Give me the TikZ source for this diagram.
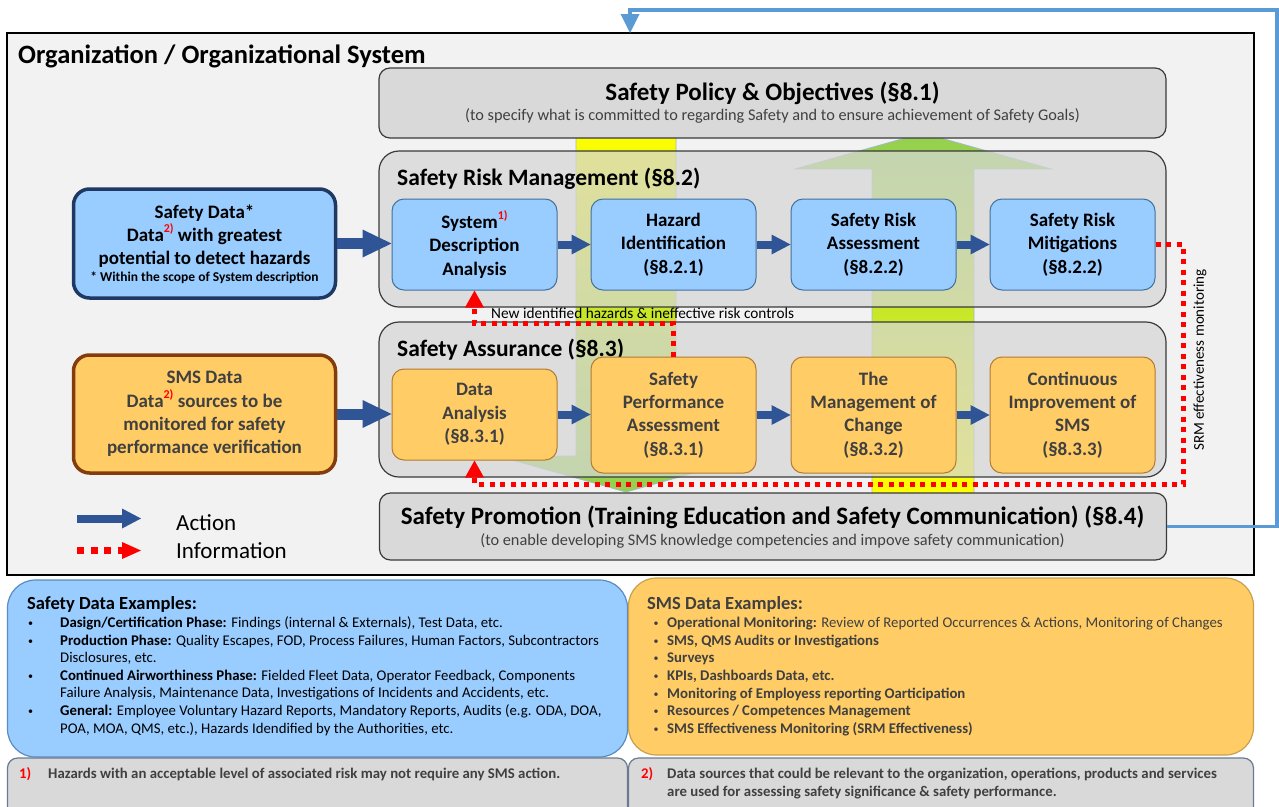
\documentclass[tikz,border=0pt]{standalone}
\usepackage{fontspec}
\setmainfont{Carlito}
\usetikzlibrary{arrows.meta,calc}
\definecolor{bgc}{HTML}{F2F2F2}
\definecolor{contc}{HTML}{D6D6D6}
\definecolor{polc}{HTML}{D9D9D9}
\definecolor{edgec}{HTML}{3A3A3A}
\definecolor{bluebox}{HTML}{99CCFF}
\definecolor{blueedge}{HTML}{41719C}
\definecolor{orbox}{HTML}{FFCC66}
\definecolor{oredge}{HTML}{B47A2F}
\definecolor{actc}{HTML}{2F5597}
\definecolor{fbc}{HTML}{5B9BD5}
\definecolor{txtg}{HTML}{404040}
\definecolor{ylw}{HTML}{FFFF00}
\definecolor{grn}{HTML}{92D050}
\definecolor{sdedge}{HTML}{203864}
\definecolor{smsedge}{HTML}{843C0C}
\definecolor{fnedge}{HTML}{6A7A90}
\definecolor{arredge}{HTML}{A3B9CC}
\definecolor{exoredge}{HTML}{C9A04C}
\definecolor{exbledge}{HTML}{5B8BC0}
\newcommand\FS[2]{\fontsize{#1}{#2}\selectfont}
\newcommand\redsup[1]{\raisebox{0.45em}{\FS{12}{12}\bfseries\color{red}#1}}
\tikzset{
  frame/.style={draw=black, line width=1.6pt, fill=bgc, inner sep=0pt},
  cont/.style={draw=edgec, line width=1.2pt, fill=contc, fill opacity=0.72, rounded corners=20pt, inner sep=0pt, minimum width=787pt},
  pcont/.style={draw=edgec, line width=1.2pt, fill=polc, rounded corners=11pt, inner sep=0pt, minimum width=787pt},
  bbox/.style={draw=blueedge, line width=1pt, fill=bluebox, rounded corners=12pt, minimum width=165pt, minimum height=91pt, align=center, font=\FS{19}{23.3}\bfseries, inner sep=0pt},
  obox/.style={bbox, draw=oredge, fill=orbox, text=txtg},
  sdbox/.style={draw=sdedge, line width=3.5pt, fill=bluebox, rounded corners=16pt, minimum width=262pt, minimum height=109pt, inner sep=0pt},
  smsbox/.style={draw=smsedge, line width=3.5pt, fill=orbox, rounded corners=16pt, minimum width=262pt, minimum height=118pt, inner sep=0pt, align=center, font=\FS{19}{23.3}\bfseries, text=txtg},
  act/.style={draw=actc, line width=8pt, -{Triangle[length=19pt,width=20pt,line width=0pt]}},
  bigact/.style={draw=actc, line width=11pt, -{Triangle[length=29pt,width=28pt,line width=0pt]}},
  info/.style={draw=red, line width=5pt, dash pattern=on 5pt off 5.5pt, -{Triangle[length=17pt,width=19pt,line width=0pt]}},
  infolegend/.style={draw=red, line width=7pt, dash pattern=on 7pt off 6.5pt, -{Triangle[length=19pt,width=17pt,line width=0pt]}},
  fb/.style={draw=fbc, line width=3.5pt, -{Triangle[length=19pt,width=19pt,line width=0pt]}},
  bigarrow/.style={draw=arredge, line width=0.8pt},
  lb/.style={anchor=base west, inner sep=0pt},
  lc/.style={anchor=base, inner sep=0pt},
  exbl/.style={draw=exbledge, line width=1.2pt, fill=bluebox, rounded corners=28pt, inner sep=0pt},
  exor/.style={draw=exoredge, line width=1.2pt, fill=orbox, rounded corners=28pt, inner sep=0pt},
  fnbox/.style={draw=fnedge, line width=1.2pt, fill=polc, rounded corners=10pt, inner sep=0pt},
  exfont/.style={font=\FS{14.8}{17.6}},
  bul/.style={anchor=base, inner sep=0pt, font=\FS{10}{10}},
}
\begin{document}
\begin{tikzpicture}[x=1pt,y=-1pt]
\useasboundingbox (0,0) rectangle (1279,806);
% outer frame
\node[frame, minimum width=1247pt, minimum height=542pt] (org) at (630.5,304) {};
\node[lb, font=\FS{26.5}{30}\bfseries] (orgt) at (18,63.5) {Organization / Organizational System};
% big gradient arrows
\path[bigarrow, top color=ylw, bottom color=grn] (576,128) -- (676,128) -- (676,456) -- (754,456) -- (626,492) -- (498,456) -- (576,456) -- cycle;
\path[bigarrow, top color=grn, bottom color=ylw] (872,497) -- (974,497) -- (974,169) -- (1051,169) -- (923,133) -- (795,169) -- (872,169) -- cycle;
% containers
\node[cont, minimum height=156pt] (srm) at (772.5,229) {};
\node[cont, minimum height=155pt] (sa) at (772.5,399.5) {};
\node[pcont, minimum height=70pt] (pol) at (772.5,103) {};
\node[pcont, minimum height=67pt] (prom) at (773,526.5) {};
% titles
\node[lc, font=\FS{25}{28}\bfseries] (polt) at (772.5,100) {Safety Policy \& Objectives (§8.1)};
\node[lc, font=\FS{16.3}{18}, text=txtg] (pols) at (772.5,120.5) {(to specify what is committed to regarding Safety and to ensure achievement of Safety Goals)};
\node[lb, font=\FS{23.5}{26}\bfseries] (srmt) at (397,185) {Safety Risk Management (§8.2)};
\node[lb, font=\FS{23.5}{26}\bfseries] (sat) at (397,356.5) {Safety Assurance (§8.3)};
\node[lc, font=\FS{25}{28}\bfseries] (promt) at (772.5,524) {Safety Promotion (Training Education and Safety Communication) (§8.4)};
\node[lc, font=\FS{16.3}{18}, text=txtg] (proms) at (772.5,545.5) {(to enable developing SMS knowledge competencies and impove safety communication)};
% SRM boxes
\node[bbox] (sda) at (474.5,244.5) {System\redsup{1)}\\Description\\Analysis};
\node[bbox] (hi) at (673.5,244.5) {Hazard\\Identification\\(§8.2.1)};
\node[bbox] (sra) at (873.5,244.5) {Safety Risk\\Assessment\\(§8.2.2)};
\node[bbox] (srmit) at (1072.5,244.5) {Safety Risk\\Mitigations\\(§8.2.2)};
% SA boxes
\node[obox] (da) at (474.5,414.5) {Data\\Analysis\\(§8.3.1)};
\node[obox, minimum height=116pt] (spa) at (673.5,415) {Safety\\Performance\\Assessment\\(§8.3.1)};
\node[obox, minimum height=116pt] (moc) at (873.5,415) {The\\Management of\\Change\\(§8.3.2)};
\node[obox, minimum height=116pt] (ci) at (1072.5,415) {Continuous\\Improvement of\\SMS\\(§8.3.3)};
% left data boxes
\node[sdbox] (sd) at (204.5,243.5) {};
\node[align=center, inner sep=0pt, font=\FS{19}{23}\bfseries] (sdt) at (204.5,236) {Safety Data*\\Data\redsup{2)} with greatest\\potential to detect hazards};
\node[lc, font=\FS{13.5}{15}\bfseries] (sdn) at (204.5,281.5) {* Within the scope of System description};
\node[smsbox] (sms) at (204.5,414) {SMS Data\\Data\redsup{2)} sources to be\\monitored for safety\\performance verification};
% action arrows
\draw[bigact] (sd.east) -- (sd.east -| sda.west);
\draw[bigact] (sms.east) -- (sms.east -| da.west);
\draw[act] (sda) -- (hi);
\draw[act] (hi) -- (sra);
\draw[act] (sra) -- (srmit);
\draw[act] (da.east) -- (da.east -| spa.west);
\draw[act] (spa) -- (moc);
\draw[act] (moc) -- (ci);
% information arrows
\draw[info] (spa.north) -- ++(0,-33) -| (sda.south);
\coordinate (rc) at (1183,484);
\draw[info] (srmit.east) -| (rc) -| (da.south);
\node[lb, font=\FS{15.3}{15}] (lbl) at (491,318.5) {New identified hazards \& ineffective risk controls};
\node[rotate=90, font=\FS{15}{15}, inner sep=0pt] (srmlbl) at (1200,360) {SRM effectiveness monitoring};
% feedback line
\coordinate (fbr) at (1277,10);
\coordinate (fbt) at (630,33);
\draw[fb] (prom.east) -| (fbr) -| (fbt);
% legend
\coordinate (la1) at (77,518.5);
\coordinate (la2) at (141,518.5);
\coordinate (li1) at (77,550.5);
\coordinate (li2) at (141,550.5);
\draw[act] (la1) -- (la2);
\draw[infolegend] (li1) -- (li2);
\node[lb, font=\FS{23}{26}] (lact) at (176,530) {Action};
\node[lb, font=\FS{23}{26}] (linf) at (176,558.3) {Information};
% examples boxes
\node[exbl, minimum width=620pt, minimum height=177pt] (exb) at (317.5,668.5) {};
\node[exor, minimum width=625pt, minimum height=177pt] (exo) at (941,666.5) {};
\node[fnbox, minimum width=620pt, minimum height=72pt] (fn1) at (317.5,794) {};
\node[fnbox, minimum width=625pt, minimum height=72pt] (fn2) at (941,794) {};
% blue examples text
\node[lb, font=\FS{18.5}{20}\bfseries] (bt) at (27,609) {Safety Data Examples:};
\node[bul] (bb1) at (30.7,626.5) {•};
\node[bul] (bb2) at (30.7,644.1) {•};
\node[bul] (bb4) at (30.7,679.3) {•};
\node[bul] (bb6) at (30.7,714.5) {•};
\node[lb, exfont] (b1) at (60,627.5) {\textbf{Dasign/Certification Phase:} Findings (internal \& Externals), Test Data, etc.};
\node[lb, exfont] (b2) at (60,645.1) {\textbf{Production Phase:} Quality Escapes, FOD, Process Failures, Human Factors, Subcontractors};
\node[lb, exfont] (b3) at (60,662.7) {Disclosures, etc.};
\node[lb, exfont] (b4) at (60,680.3) {\textbf{Continued Airworthiness Phase:} Fielded Fleet Data, Operator Feedback, Components};
\node[lb, exfont] (b5) at (60,697.9) {Failure Analysis, Maintenance Data, Investigations of Incidents and Accidents, etc.};
\node[lb, exfont] (b6) at (60,715.5) {\textbf{General:} Employee Voluntary Hazard Reports, Mandatory Reports, Audits (e.g. ODA, DOA,};
\node[lb, exfont] (b7) at (60,733.1) {POA, MOA, QMS, etc.), Hazards Idendified by the Authorities, etc.};
% orange examples text
\node[lb, font=\FS{18.5}{20}\bfseries, text=txtg] (ot) at (647,609) {SMS Data Examples:};
\node[bul, text=txtg] (ob1) at (656,626.3) {•};
\node[bul, text=txtg] (ob2) at (656,644) {•};
\node[bul, text=txtg] (ob3) at (656,661.7) {•};
\node[bul, text=txtg] (ob4) at (656,679.4) {•};
\node[bul, text=txtg] (ob5) at (656,697.1) {•};
\node[bul, text=txtg] (ob6) at (656,714.8) {•};
\node[bul, text=txtg] (ob7) at (656,732.5) {•};
\node[lb, exfont, text=txtg] (o1) at (667,627.3) {\textbf{Operational Monitoring:} Review of Reported Occurrences \& Actions, Monitoring of Changes};
\node[lb, exfont, text=txtg] (o2) at (667,645) {\textbf{SMS, QMS Audits or Investigations}};
\node[lb, exfont, text=txtg] (o3) at (667,662.7) {\textbf{Surveys}};
\node[lb, exfont, text=txtg] (o4) at (667,680.4) {\textbf{KPIs, Dashboards Data, etc.}};
\node[lb, exfont, text=txtg] (o5) at (667,698.1) {\textbf{Monitoring of Employess reporting Oarticipation}};
\node[lb, exfont, text=txtg] (o6) at (667,715.8) {\textbf{Resources / Competences Management}};
\node[lb, exfont, text=txtg] (o7) at (667,733.5) {\textbf{SMS Effectiveness Monitoring (SRM Effectiveness)}};
% footnotes
\node[lb, font=\FS{14.8}{17.6}\bfseries, text=red] (f1n) at (19,778.5) {1)};
\node[lb, font=\FS{14.8}{17.6}\bfseries, text=txtg] (f1t) at (48,778.5) {Hazards with an acceptable level of associated risk may not require any SMS action.};
\node[lb, font=\FS{14.8}{17.6}\bfseries, text=red] (f2n) at (641,778.5) {2)};
\node[lb, font=\FS{14.8}{17.6}\bfseries, text=txtg] (f2t) at (667,778.5) {Data sources that could be relevant to the organization, operations, products and services};
\node[lb, font=\FS{14.8}{17.6}\bfseries, text=txtg] (f2u) at (667,796.1) {are used for assessing safety significance \& safety performance.};
\end{tikzpicture}
\end{document}
